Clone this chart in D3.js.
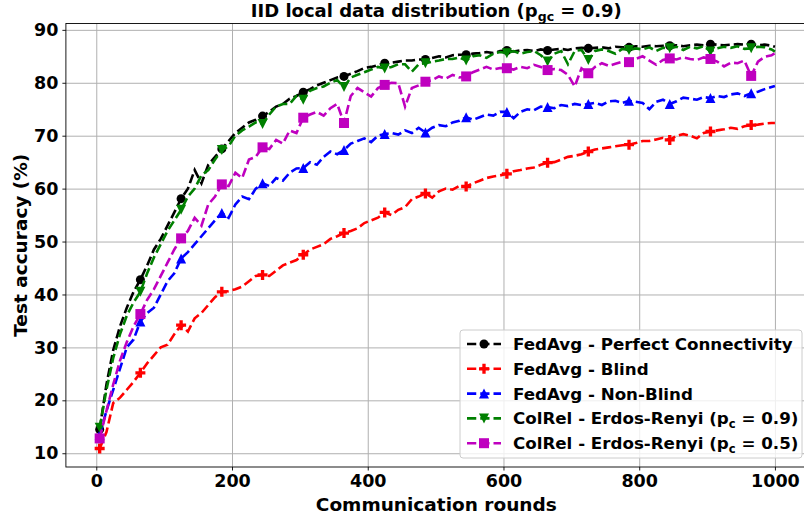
<!DOCTYPE html>
<html>
<head>
<meta charset="utf-8">
<script src="https://cdn.jsdelivr.net/npm/d3@7"></script>
<style>
  body { margin: 0; background: #fff; }
  text { font-family: "DejaVu Sans", sans-serif; font-weight: bold; }
</style>
</head>
<body>
<script>
// rounds 5, 15, ..., 995 and the last round 1000
var rounds = d3.range(5, 1000, 10).concat([1000]);

var perfect = [
  14.5, 23, 29.5, 34, 37.5, 40.5, 42.8, 45.5, 48.5, 50.5,
  53, 55.5, 58.1, 60, 63.5, 61, 64.5, 66, 67.5, 69,
  70.5, 71.5, 72.5, 73, 73.7, 74.5, 75.5, 76, 77, 77.5,
  78.2, 78.8, 79.5, 80, 80.5, 81, 81.2, 81.7, 82.2, 82.8,
  83, 83.3, 83.7, 83.8, 84, 84.2, 84.2, 84.4, 84.4, 84.7,
  85, 84.8, 85.2, 85.3, 85.3, 85.5, 85.6, 85.8, 85.6, 86,
  86.1, 85.9, 86.1, 86.2, 86, 86.3, 86.1, 86.3, 86.4, 86.2,
  86.5, 86.6, 86.5, 86.6, 86.7, 86.5, 86.8, 86.7, 86.7, 86.9,
  86.8, 87, 86.9, 87, 87, 87.1, 86.9, 87.1, 87.2, 87.1,
  87.3, 87.2, 87.1, 87.2, 87.3, 87.2, 87.3, 87.1, 87.2, 87,
  86.8];

var blind = [
  10.9, 14, 19.5, 20.5, 22, 23.5, 25.2, 27, 28.5, 30,
  30.5, 32.5, 34.2, 33, 35.5, 36.5, 38, 39.5, 40.5, 40.6,
  41, 41.5, 42.5, 43.5, 43.7, 43.5, 44.5, 45.5, 46, 46.5,
  47.5, 48.5, 49, 49.5, 50.5, 51, 51.6, 52, 52.5, 53.5,
  54, 54.5, 55.5, 55, 56, 56.5, 58, 58.5, 59.1, 58.3,
  59.5, 60, 59.8, 60.5, 60.4, 61, 61.5, 62, 62.3, 62.5,
  62.8, 63.3, 63.5, 63.8, 64, 64.5, 64.9, 65, 65.5, 66,
  66.2, 66.5, 67, 67.4, 67.6, 67.8, 68, 68.2, 68.3, 68.6,
  69, 69, 69.3, 69.6, 69.2, 70, 70.3, 70, 69.5, 70.5,
  70.8, 71, 71.2, 71.5, 71.3, 71.8, 72, 72.1, 72.3, 72.4,
  72.4];

var nonBlind = [
  13.5, 18, 22, 26, 30, 31.5, 34.9, 36.5, 37.5, 40,
  42.5, 44, 46.8, 48, 49.5, 51, 52.5, 54, 55.4, 54.5,
  57, 58.5, 58, 60, 61, 60.5, 62, 61.5, 63, 63.8,
  63.9, 65, 64.5, 66, 67, 66.5, 67.3, 68.5, 69, 69.5,
  68.8, 70, 70.3, 70.5, 70.2, 71, 70.5, 71.5, 70.6, 71.5,
  72, 71.8, 72.5, 72.8, 73.5, 73, 73.5, 74, 73.8, 74.5,
  74.5, 73.3, 74.5, 75, 74.8, 75.5, 75.4, 75.2, 75.8, 75.6,
  76, 75.8, 76, 76.2, 75.8, 76.5, 76.6, 76.2, 76.6, 76.4,
  76.2, 75, 76.4, 76.8, 76, 76.5, 77.2, 77, 76.8, 77.3,
  77.1, 77.5, 77.3, 77.8, 78, 77.5, 78, 78.3, 78.8, 79.2,
  79.4];

var colRel09 = [
  14.8, 22, 28, 32.5, 36, 38.5, 40.5, 44, 47, 49.5,
  52, 54, 56, 58.5, 60, 62.5, 63.5, 65.5, 67.3, 68,
  70, 71, 71.7, 72.5, 72.2, 74, 75.5, 76, 76, 77.5,
  76.8, 78.5, 79, 79.3, 80, 80.5, 79.2, 81, 81.5, 82,
  82.5, 83, 82.7, 83, 83.5, 83.5, 82.1, 83.5, 83.7, 84,
  84.2, 84.5, 84.5, 84.8, 84.2, 85, 85.2, 84.7, 85.5, 85.8,
  85.6, 86, 85.5, 85.8, 86, 85.2, 84, 85.5, 86, 83.5,
  86, 86.2, 84.3, 86, 86.3, 86, 85.5, 86.4, 86.2, 86.5,
  86.3, 86.7, 86, 86.6, 86.5, 86.8, 86.2, 86.8, 86.5, 86.9,
  85.9, 86.5, 86.8, 86.6, 86.9, 86.4, 86.5, 86.8, 86.7, 86.3,
  85.9];

var colRel05 = [
  12.8, 18, 23, 27.5, 31, 34, 36.3, 39, 41, 43.5,
  46, 48.5, 50.6, 52, 54.5, 53, 57, 58.5, 60.8, 60.5,
  63, 62, 65.5, 66, 67.8, 67.5, 69.2, 68.5, 71, 70.5,
  73.4, 74, 74.5, 73.8, 75.2, 76, 72.4, 77.5, 79, 78.2,
  77.4, 79, 79.6, 80, 79.9, 75.5, 79, 79.5, 80.2, 80.5,
  81.2, 80.8, 81.5, 81, 81.2, 82, 82.5, 83, 82.5, 82.8,
  82.75, 82.5, 83, 82.75, 83.4, 83, 82.4, 82.6, 82.4, 81.5,
  79.3, 82.75, 81.8, 83, 83.7, 83.2, 83.6, 84, 83.9, 84.5,
  85, 84.2, 83.4, 84.3, 84.6, 84.4, 84.8, 84.5, 84.3, 84.8,
  84.5, 84, 83.1, 83.8, 83.7, 84.2, 81.3, 84, 84.9, 85.2,
  85.6];

var xTicks = [0, 200, 400, 600, 800, 1000];
var yTicks = [10, 20, 30, 40, 50, 60, 70, 80, 90];

var series = [
  { name: "FedAvg - Perfect Connectivity", values: perfect, color: "#000000", marker: "circle" },
  { name: "FedAvg - Blind", values: blind, color: "#ff0000", marker: "plus" },
  { name: "FedAvg - Non-Blind", values: nonBlind, color: "#0000ff", marker: "triUp" },
  { name: "ColRel - Erdos-Renyi", pc: "0.9", values: colRel09, color: "#008000", marker: "triDown" },
  { name: "ColRel - Erdos-Renyi", pc: "0.5", values: colRel05, color: "#bf00bf", marker: "square" }
];

var width = 804, height = 518;
var plot = { left: 65.9, right: 808.7, top: 23.5, bottom: 467 };

var x = d3.scaleLinear().domain([-44.75, 1049.75]).range([plot.left, plot.right]);
var y = d3.scaleLinear().domain([7.4, 91.2]).range([plot.bottom, plot.top]);

var svg = d3.select("body").append("svg")
  .attr("width", width).attr("height", height);

// grid
var gx = svg.append("g").attr("transform", "translate(0," + plot.bottom + ")")
  .call(d3.axisBottom(x).tickValues(xTicks).tickSize(-(plot.bottom - plot.top)).tickFormat(""));
var gy = svg.append("g").attr("transform", "translate(" + plot.left + ",0)")
  .call(d3.axisLeft(y).tickValues(yTicks).tickSize(-(plot.right - plot.left)).tickFormat(""));
[gx, gy].forEach(function (g) {
  g.select(".domain").remove();
  g.selectAll(".tick line").attr("stroke", "#b0b0b0").attr("stroke-width", 1);
});

// frame
svg.append("rect")
  .attr("x", plot.left).attr("y", plot.top)
  .attr("width", plot.right - plot.left).attr("height", plot.bottom - plot.top)
  .attr("fill", "none").attr("stroke", "#000").attr("stroke-width", 0.9);

// axes
var xAxis = svg.append("g").attr("transform", "translate(0," + plot.bottom + ")")
  .call(d3.axisBottom(x).tickValues(xTicks).tickSize(3.5).tickPadding(4).tickFormat(d3.format("d")));
var yAxis = svg.append("g").attr("transform", "translate(" + plot.left + ",0)")
  .call(d3.axisLeft(y).tickValues(yTicks).tickSize(3.5).tickPadding(4).tickFormat(d3.format("d")));
[xAxis, yAxis].forEach(function (g) {
  g.select(".domain").remove();
  g.selectAll(".tick line").attr("stroke", "#000").attr("stroke-width", 0.9);
  g.selectAll(".tick text").attr("fill", "#000")
    .style("font-family", "'DejaVu Sans', sans-serif")
    .style("font-weight", "bold").style("font-size", "17.5px");
});
xAxis.selectAll(".tick text").attr("dy", "0.71em");

function markerPath(type, s) {
  var h = s / 2;
  if (type === "circle") return d3.symbol(d3.symbolCircle, Math.PI * h * h * 0.9)();
  if (type === "square") return "M" + (-h) + "," + (-h) + "H" + h + "V" + h + "H" + (-h) + "Z";
  if (type === "triUp") return "M0," + (-h) + "L" + h + "," + h + "L" + (-h) + "," + h + "Z";
  if (type === "triDown") return "M0," + h + "L" + h + "," + (-h) + "L" + (-h) + "," + (-h) + "Z";
  if (type === "plus") {
    var t = s / 6;
    return "M" + (-t) + "," + (-h) + "H" + t + "V" + (-t) + "H" + h + "V" + t + "H" + t +
      "V" + h + "H" + (-t) + "V" + t + "H" + (-h) + "V" + (-t) + "H" + (-t) + "Z";
  }
}

var line = d3.line().x(function (d, i) { return x(rounds[i]); }).y(function (d) { return y(d); });

var dash = "9.25,4";
series.forEach(function (s) {
  svg.append("path").datum(s.values)
    .attr("d", line).attr("fill", "none")
    .attr("stroke", s.color).attr("stroke-width", 2.6)
    .attr("stroke-dasharray", dash);
  svg.append("g").selectAll("path")
    .data(s.values.filter(function (d, i) { return i % 6 === 0 && i < 100; }))
    .enter().append("path")
    .attr("transform", function (d, i) { return "translate(" + x(rounds[i * 6]) + "," + y(d) + ")"; })
    .attr("d", markerPath(s.marker, s.marker === "circle" ? 9.5 : 10))
    .attr("fill", s.color);
});

// title
var title = svg.append("text").attr("x", (plot.left + plot.right) / 2 - 1).attr("y", 17)
  .attr("text-anchor", "middle").style("font-size", "18px");
title.append("tspan").text("IID local data distribution (p");
title.append("tspan").attr("dy", 4).style("font-size", "12.5px").text("gc");
title.append("tspan").attr("dy", -4).text(" = 0.9)");

// axis labels
svg.append("text").attr("x", (plot.left + plot.right) / 2 - 1).attr("y", 511)
  .attr("text-anchor", "middle").style("font-size", "18.5px").text("Communication rounds");
svg.append("text").attr("transform", "translate(27," + ((plot.top + plot.bottom) / 2) + ") rotate(-90)")
  .attr("text-anchor", "middle").style("font-size", "18.5px").text("Test accuracy (%)");

// legend
var lg = svg.append("g");
lg.append("rect").attr("x", 460).attr("y", 330).attr("width", 342).attr("height", 128)
  .attr("rx", 3).attr("fill", "#fff").attr("fill-opacity", 0.8)
  .attr("stroke", "#cccccc").attr("stroke-width", 1);
series.forEach(function (s, i) {
  var cy = 344 + i * 24.8;
  lg.append("line").attr("x1", 467).attr("x2", 501).attr("y1", cy).attr("y2", cy)
    .attr("stroke", s.color).attr("stroke-width", 2.6).attr("stroke-dasharray", dash);
  lg.append("path").attr("transform", "translate(484," + cy + ")")
    .attr("d", markerPath(s.marker, s.marker === "circle" ? 9.5 : 10)).attr("fill", s.color);
  var t = lg.append("text").attr("x", 513).attr("y", cy + 6).style("font-size", "16.7px");
  if (s.pc) {
    t.append("tspan").text(s.name + " (p");
    t.append("tspan").attr("dy", 3.5).style("font-size", "11.5px").text("c");
    t.append("tspan").attr("dy", -3.5).text(" = " + s.pc + ")");
  } else {
    t.text(s.name);
  }
});
</script>
</body>
</html>
